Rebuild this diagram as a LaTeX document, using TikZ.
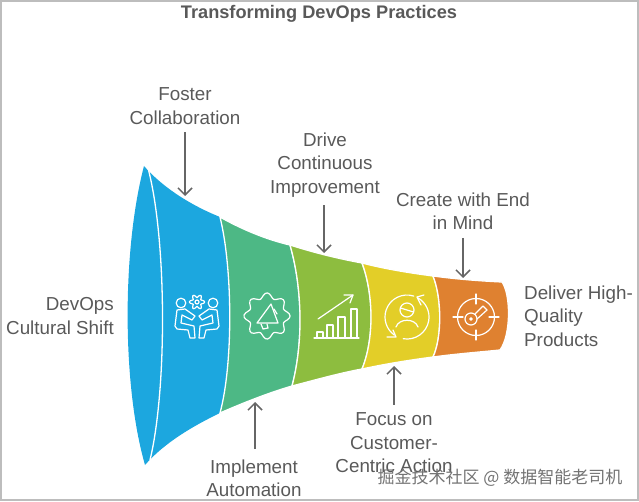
\documentclass[tikz,border=0pt]{standalone}
\usepackage{fontspec}
\setmainfont{Liberation Sans}
\newfontfamily\cjkfont{Noto Sans CJK SC}
\usetikzlibrary{arrows.meta}
\definecolor{txtgray}{HTML}{595959}
\definecolor{arrgray}{HTML}{666666}
\definecolor{framegray}{HTML}{BDBDBD}
\definecolor{fblue}{HTML}{1CA7DF}
\definecolor{fgreen}{HTML}{4DB885}
\definecolor{flime}{HTML}{8DBD3F}
\definecolor{fyellow}{HTML}{E3CE28}
\definecolor{forange}{HTML}{DF8130}
\tikzset{
  lab/.style={text=txtgray,font=\fontsize{18.8}{23.4}\selectfont,align=center,inner sep=0pt},
  seg/.style={draw=white,line width=1.3pt},
  pointer/.style={draw=arrgray,line width=1.5pt,-{Straight Barb[length=7pt,width=14pt]}},
  icon/.style={draw=white,line width=1.2pt,line join=round,line cap=round},
}
\begin{document}
\begin{tikzpicture}[x=1pt,y=-1pt]
  \useasboundingbox (0,0) rectangle (639,502);
  \draw[framegray,line width=2pt] (1,1) rectangle (637.5,500);

  % funnel
  \fill[fblue] (144,166) .. controls (122,250) and (122,385) .. (145,465)
     .. controls (165,442) and (195,425) .. (220,413) .. controls (233,365) and (233,270) .. (220,217)
     .. controls (195,207) and (165,190) .. (144,166) -- cycle;
  \draw[seg] (148,168) .. controls (167,240) and (167,390) .. (150,460);
  \draw[seg,fill=fgreen] (220,217) .. controls (243,230) and (268,240) .. (290,245)
     .. controls (303,290) and (303,345) .. (292,386)
     .. controls (268,393) and (243,403) .. (220,413)
     .. controls (233,365) and (233,270) .. (220,217) -- cycle;
  \draw[seg,fill=flime] (290,245) .. controls (315,253) and (340,259) .. (362,263)
     .. controls (374,295) and (374,340) .. (362,369)
     .. controls (340,373) and (315,380) .. (292,386)
     .. controls (303,345) and (303,290) .. (290,245) -- cycle;
  \draw[seg,fill=fyellow] (362,263) .. controls (385,269) and (410,273) .. (433,276)
     .. controls (442,298) and (442,338) .. (433,357)
     .. controls (410,360) and (385,364) .. (362,369)
     .. controls (374,340) and (374,295) .. (362,263) -- cycle;
  \draw[seg,fill=forange] (433,276) .. controls (455,279) and (480,281) .. (502,282)
     .. controls (511,295) and (511,335) .. (500,350)
     .. controls (480,352) and (455,354) .. (433,357)
     .. controls (442,338) and (442,298) .. (433,276) -- cycle;

  % people
  \draw[icon] (181,303) circle (4.8);
  \draw[icon] (213,303) circle (4.8);
  \draw[icon] plot[smooth cycle,samples=49,domain=0:352] ({197+(6+1.6*cos(6*\x))*cos(\x)},{302+(6+1.6*cos(6*\x))*sin(\x)});
  \draw[icon] (197,302) circle (2);
  \draw[icon] (177,310) -- (175,326) -- (177,329) -- (188,330) -- (190,338) -- (195,338) -- (194,326) -- (181,323) -- (182,315) -- (192,320) -- (195,316) -- (185,309) -- cycle;
  \draw[icon] (217,310) -- (219,326) -- (217,329) -- (206,330) -- (204,338) -- (199,338) -- (200,326) -- (213,323) -- (212,315) -- (202,320) -- (199,316) -- (209,309) -- cycle;

  % gear and megaphone
  \draw[icon] plot[smooth cycle,samples=65,domain=0:354] ({267+(20.5+2.6*cos(8*\x))*cos(\x)},{316+(20.5+2.6*cos(8*\x))*sin(\x)});
  \draw[icon] (271,304) -- (257,323) -- (278,323) -- cycle;
  \draw[icon] (274,309) -- (277,314);
  \draw[icon] (261,324) -- (263,329) -- (268,328) -- (267,324);

  % chart
  \draw[icon] (314,338) -- (359,338);
  \draw[icon] (317,338) -- (317,332) -- (323,332) -- (323,338);
  \draw[icon] (327,338) -- (327,325) -- (333,325) -- (333,338);
  \draw[icon] (338,338) -- (338,317) -- (345,317) -- (345,338);
  \draw[icon] (351,338) -- (351,309) -- (357,309) -- (357,338);
  \draw[icon] (318,319) -- (353,295);
  \draw[icon] (344,295) -- (353,295) -- (350,303);

  % circular arrows and person
  \draw[icon] (413.8,296.1) arc (-72:-235:22);
  \draw[icon] (403.2,338.7) arc (100:-60:22);
  \draw[icon] (387,337) -- (396,337) -- (393,330);
  \draw[icon] (424,295) -- (417,297) -- (421,305);
  \draw[icon] (407,310) circle (7);
  \draw[icon] (400.5,308) -- (413.5,312);
  \draw[icon] (396,327) .. controls (399,318) and (415,318) .. (418,327);

  % target and key
  \draw[icon] (476,317) circle (18.5);
  \draw[icon] (476,294) -- (476,304);
  \draw[icon] (476,330) -- (476,340);
  \draw[icon] (453,317) -- (463,317);
  \draw[icon] (489,317) -- (499,317);
  \draw[icon] (471,319) circle (6);
  \draw[icon] (471,319) circle (1.3);
  \draw[icon] (475,314) -- (483,306) -- (487,310) -- (477,319);

  % labels
  \node[lab,font=\fontsize{18.2}{20}\selectfont\bfseries] (title) at (319,14) {Transforming DevOps Practices};
  \node[lab] (foster) at (185,106) {Foster\\Collaboration};
  \node[lab] (drive) at (325,165) {Drive\\Continuous\\Improvement};
  \node[lab] (create) at (463,211) {Create with End\\in Mind};
  \node[lab,align=right,anchor=east] (devops) at (114,316) {DevOps\\Cultural Shift};
  \node[lab,align=left,anchor=west] (deliver) at (524,316) {Deliver High-\\Quality\\Products};
  \node[lab] (focus) at (394,443) {Focus on\\Customer-\\Centric Action};
  \node[lab] (implement) at (254,478) {Implement\\Automation};
  \node[text=black!55,font=\cjkfont\fontsize{17}{20}\selectfont,inner sep=0pt] (mark) at (500,478) {掘金技术社区 @ 数据智能老司机};

  % pointers
  \coordinate (p1) at (185,196);
  \coordinate (p2) at (255,402);
  \coordinate (p3) at (324,253);
  \coordinate (p4) at (394,366);
  \coordinate (p5) at (463,278);
  \draw[pointer] (foster.south -| p1) ++(0,8) -- (p1);
  \draw[pointer] (implement.north -| p2) ++(0,-10) -- (p2);
  \draw[pointer] (drive.south -| p3) ++(0,8) -- (p3);
  \draw[pointer] (focus.north -| p4) ++(0,-8) -- (p4);
  \draw[pointer] (create.south -| p5) ++(0,8) -- (p5);
\end{tikzpicture}
\end{document}
